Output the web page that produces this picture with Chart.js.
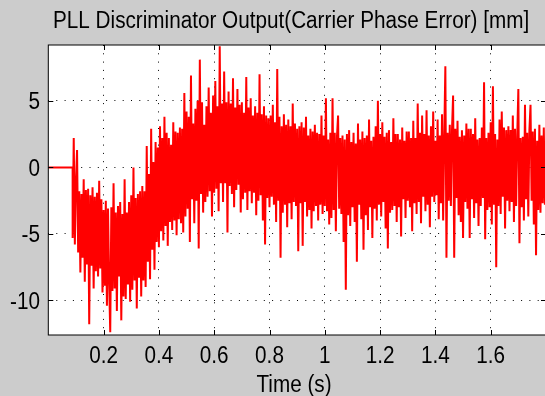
<!DOCTYPE html>
<html>
<head>
<meta charset="utf-8">
<script src="https://cdn.jsdelivr.net/npm/chart.js@4/dist/chart.umd.min.js"></script>
<style>
  html, body { margin: 0; padding: 0; background: #cccccc; overflow: hidden; }
  #wrap { width: 550px; height: 396px; position: relative; }
</style>
</head>
<body>
<div id="wrap"><canvas id="pll"></canvas></div>
<script>
// Texts and tick marks
const chartTitle = 'PLL Discriminator Output(Carrier Phase Error) [mm]';
const xAxisLabel = 'Time (s)';
const xTicks = [0.2, 0.4, 0.6, 0.8, 1.0, 1.2, 1.4, 1.6];
const xTickLabels = ['0.2', '0.4', '0.6', '0.8', '1', '1.2', '1.4', '1.6'];
const yTicks = [-10, -5, 0, 5];
const yTickLabels = ['-10', '-5', '0', '5'];

// Loop idle before lock-in (output held at zero)
const idleTime = [0, 0.088];
const idleError = [0, 0];

// Discriminator output samples [mm], starting at sampleStart, every sampleStep seconds
const sampleStart = 0.088;
const sampleStep = 0.004;
const phaseError = [
  -5.3, 2.2, -5.8,
  -1.1, 1.3, -6.4, -1.8, -7.9, -2.0, -6.8, -0.9, -8.6, -1.7, -7.3, -1.6, -11.8, -2.1, -7.4, -1.5, -9.1, -2.2, -7.8, -1.9, -8.2, -1.0, -7.6, -2.4, -9.4,
  -3.2, -8.9, -2.5, -10.4, -3.1, -8.6, -12.4, -3.0, -9.3, -1.2, -9.1, -3.4, -10.8, -2.9, -8.2, -2.6, -11.5, -3.5, -9.7, -0.9, -9.9, -3.4, -8.8, -2.6, -10.1,
  -2.1, -9.2, 0.0, -8.5, -2.3, -10.6, -2.0, -8.3, -1.8, -9.7, -1.4, -8.5, -1.8, -9.0, 1.6, -7.1, -0.5, -8.4, 2.9, -6.2, 0.4, -7.7, 1.9, -5.6, 1.5,
  -6.0, 3.1, -4.8, 2.2, -5.5, 3.8, -4.4, 2.6, -5.9, 2.2, -4.1, 1.7, -4.7, 3.4, -4.0, 2.7, -5.1, 2.6, -3.9, 3.0, -4.2, 2.9, -4.9, 5.6, -3.7,
  4.2, -3.1, 3.8, -5.6, 6.9, -2.4, 3.3, -4.2, 4.4, -2.5, 5.0, -6.1, 8.1, -2.0, 4.9, -3.4, 3.2, -2.6, 4.6, -2.2, 6.0, -1.8, 4.1, -3.7, 5.4,
  -1.9, 6.5, -1.6, 4.6, -3.3, 9.1, -1.2, 4.8, -2.6, 7.2, -1.2, 4.9, -4.9, 5.7, -1.4, 4.8, -2.0, 6.7, -3.0, 4.5, -1.7, 5.9, -1.3, 4.7, -3.4,
  4.9, -2.4, 4.1, -1.9, 6.8, -3.2, 4.5, -1.8, 5.2, -2.7, 3.9, -1.9, 4.6, -3.6, 4.1, -2.5, 7.0, -2.1, 4.0, -4.0, 4.6, -5.8, 3.9, -2.3, 3.7,
  -3.0, 3.9, -2.2, 4.7, -2.8, 3.4, -4.1, 7.4, -2.5, 3.8, -6.8, 3.1, -3.4, 4.0, -2.8, 3.2, -4.5, 3.6, -2.7, 3.1, -3.9, 4.8, -2.6, 3.3, -2.9,
  2.9, -6.3, 3.1, -2.7, 3.4, -5.9, 3.0, -2.6, 3.8, -3.7, 2.4, -3.2, 2.9, -4.6, 2.7, -3.3, 3.2, -2.9, 2.6, -4.0, 2.5, -2.8, 3.9, -3.5, 2.4,
  -2.9, 5.2, -3.3, 2.1, -4.3, 2.6, -3.8, 5.2, -3.2, 2.6, -4.8, 2.3, 3.9, -3.1, 2.2, -3.5, 2.4, -5.6, 2.1, -9.2, 2.5, -3.6, 2.8, -4.4, 1.9,
  -3.0, 2.6, -4.1, 1.8, -7.1, 3.3, -2.8, 2.1, -3.9, 2.7, -6.2, 2.2, -3.6, 2.4, -4.7, 3.6, -3.0, 2.0, -5.3, 2.3, -3.1, 3.1, -4.0, 5.0, -2.8,
  2.5, -3.7, 3.4, -2.6, 2.3, -4.6, 2.6, -6.1, 2.8, -3.4, 1.9, -3.2, 3.7, -2.9, 2.5, -4.1, 2.5, -3.0, 2.1, -5.2, 3.0, -2.4, 2.0, -3.8, 2.7,
  -2.5, 2.7, -3.0, 2.2, -4.8, 3.5, -2.7, 2.2, -3.5, 4.8, -2.6, 2.6, -4.2, 3.9, -2.2, 2.5, -3.3, 4.3, -2.8, 2.4, -4.5, 3.1, -2.2, 4.2, -2.6,
  2.0, -2.1, 3.6, -3.9, 2.4, -2.7, 4.0, -4.0, 2.3, 7.6, -6.8, 2.6, -2.5, 3.2, -2.9, 2.8, 5.4, -6.8, 2.9, -2.3, 3.5, -3.6, 2.3, -4.1, 2.8,
  -5.3, 2.4, -2.6, 3.3, -3.1, 2.9, -5.3, 2.9, -2.4, 2.5, -3.8, 3.7, -2.7, 2.1, -4.4, 2.2, -2.9, 3.0, -2.3, 6.4, -5.4, 2.2, -3.2, 2.6, -3.0,
  3.4, -4.3, 6.1, -2.8, 2.5, -7.5, 2.1, -2.9, 3.6, -3.5, 4.2, -2.2, 3.0, -4.6, 2.8, -2.5, 3.1, -3.3, 2.8, -2.6, 3.9, -4.1, 2.9, -2.9, 2.4,
  5.9, -5.7, 2.2, -3.0, 2.3, -4.0, 4.7, -2.4, 2.6, -3.7, 2.8, 4.7, -2.5, 2.7, -4.3, 2.9, -6.6, 2.0, -3.2, 3.2, -3.4, 2.4, -2.7, 3.0, -2.8, 1.5
];

// Build the point table for the line
const points = idleTime.map((t, i) => ({ x: t, y: idleError[i] }))
  .concat(phaseError.map((v, i) => ({ x: sampleStart + i * sampleStep, y: v })));

const FONT = '23px "Liberation Sans", Arial, Helvetica, sans-serif';
const SQUEEZE = 0.9;

function drawLabel(ctx, str, x, y, align) {
  ctx.save();
  ctx.translate(x, y);
  ctx.scale(SQUEEZE, 1);
  ctx.textAlign = align;
  ctx.textBaseline = 'alphabetic';
  ctx.fillText(str, 0, 0);
  ctx.restore();
}

// Axes box, inward tick marks and all texts, in the classic plot-figure style
const figureFrame = {
  id: 'figureFrame',
  beforeDraw(chart) {
    const { ctx, chartArea: a } = chart;
    ctx.save();
    ctx.fillStyle = '#cccccc';
    ctx.fillRect(0, 0, chart.width, chart.height);
    ctx.fillStyle = '#ffffff';
    ctx.fillRect(a.left, a.top, a.right - a.left, a.bottom - a.top);
    ctx.restore();
  },
  afterDraw(chart) {
    const { ctx, chartArea: a, scales } = chart;
    const xs = scales.x, ys = scales.y;
    const tl = 5;
    ctx.save();
    ctx.strokeStyle = '#000000';
    ctx.lineWidth = 1;
    ctx.strokeRect(a.left, a.top, a.right - a.left, a.bottom - a.top);
    ctx.beginPath();
    xTicks.forEach(v => {
      const px = Math.round(xs.getPixelForValue(v)) + 0.5;
      ctx.moveTo(px, a.bottom); ctx.lineTo(px, a.bottom - tl);
      ctx.moveTo(px, a.top); ctx.lineTo(px, a.top + tl);
    });
    yTicks.forEach(v => {
      const py = Math.round(ys.getPixelForValue(v)) + 0.5;
      ctx.moveTo(a.left, py); ctx.lineTo(a.left + tl, py);
      ctx.moveTo(a.right, py); ctx.lineTo(a.right - tl, py);
    });
    ctx.stroke();

    ctx.fillStyle = '#000000';
    ctx.font = FONT;
    xTicks.forEach((v, i) => drawLabel(ctx, xTickLabels[i], xs.getPixelForValue(v), 363, 'center'));
    yTicks.forEach((v, i) => drawLabel(ctx, yTickLabels[i], 40, ys.getPixelForValue(v) + 8.3, 'right'));
    drawLabel(ctx, chartTitle, 53, 27.5, 'left');
    drawLabel(ctx, xAxisLabel, 294, 392, 'center');
    ctx.restore();
  }
};

new Chart(document.getElementById('pll'), {
  type: 'line',
  data: {
    datasets: [{
      data: points,
      borderColor: '#ff0000',
      borderWidth: 2,
      borderJoinStyle: 'miter',
      pointRadius: 0,
      tension: 0,
      fill: false
    }]
  },
  options: {
    responsive: true,
    maintainAspectRatio: false,
    animation: false,
    devicePixelRatio: 1,
    layout: { padding: { top: 45, right: 4, left: 0, bottom: 0 } },
    plugins: {
      legend: { display: false },
      tooltip: { enabled: false },
      title: { display: false }
    },
    scales: {
      x: {
        type: 'linear',
        min: 0,
        max: 1.8,
        z: 1,
        afterBuildTicks: s => { s.ticks = xTicks.map(v => ({ value: v })); },
        afterFit: s => { s.height = 61; },
        ticks: { display: false },
        grid: { color: '#000000', lineWidth: 1, drawTicks: false, tickLength: 0 },
        border: { display: false, dash: [1, 7.3] }
      },
      y: {
        type: 'linear',
        min: -12.6,
        max: 9.2,
        z: 1,
        afterBuildTicks: s => { s.ticks = yTicks.map(v => ({ value: v })); },
        afterFit: s => { s.width = 48.3; },
        ticks: { display: false },
        grid: { color: '#000000', lineWidth: 1, drawTicks: false, tickLength: 0 },
        border: { display: false, dash: [1, 7.3] }
      }
    }
  },
  plugins: [figureFrame]
});
</script>
</body>
</html>
